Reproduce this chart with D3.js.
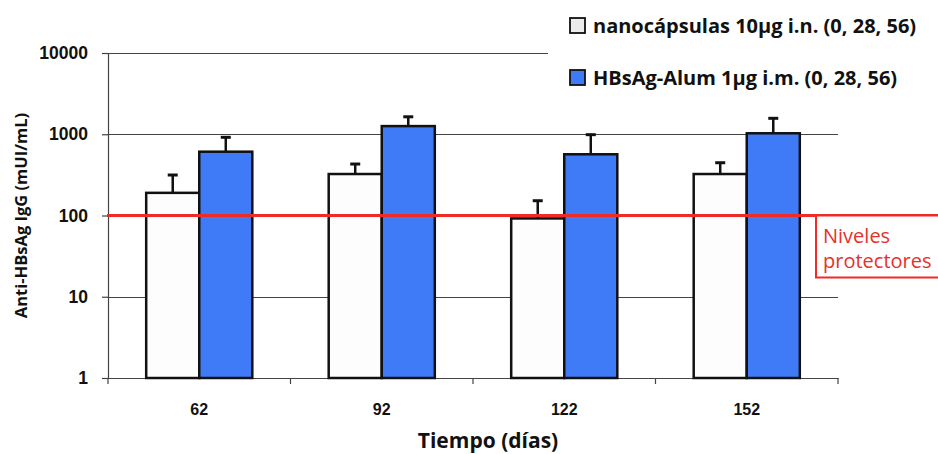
<!DOCTYPE html>
<html>
<head>
<meta charset="utf-8">
<script src="https://cdn.jsdelivr.net/npm/d3@7"></script>
<style>
  body { margin: 0; background: #fff; }
  svg { display: block; font-family: "Open Sans", "Noto Sans", sans-serif; }
</style>
</head>
<body>
<div id="chart"></div>
<script>
// datos (escala log)
const days = ["62", "92", "122", "152"];
const seriesNames = ["nanocápsulas 10µg i.n. (0, 28, 56)", "HBsAg-Alum 1µg i.m. (0, 28, 56)"];
const nanoValues = [190, 324, 92, 324];
const nanoErrTop = [315, 430, 152, 446];
const alumValues = [610, 1260, 567, 1028];
const alumErrTop = [917, 1640, 988, 1571];
const yTicks = [1, 10, 100, 1000, 10000];
const protectiveLevel = 100;

const width = 938, height = 454;
const margin = { top: 53, right: 100, bottom: 76, left: 108 };

const svg = d3.select("#chart").append("svg")
  .attr("width", width)
  .attr("height", height);

const y = d3.scaleLog().domain([1, 10000]).range([height - margin.bottom, margin.top]);
const x0 = d3.scaleBand().domain(days).range([margin.left, width - margin.right]);
const x1 = d3.scaleBand().domain([0, 1]).range([0, x0.bandwidth()]).paddingInner(0).paddingOuter(0.72);

const fills = ["#fdfdfd", "#3f7bf6"];
const legendFills = ["#ececec", "#3f7bf6"];

// ── Grid ──
const gridEnd = t => (t === 10000 ? 548 : width - margin.right);
svg.append("g")
  .selectAll("line")
  .data(yTicks.filter(t => t !== 1))
  .join("line")
  .attr("x1", margin.left)
  .attr("x2", d => gridEnd(d))
  .attr("y1", d => Math.round(y(d)) + 0.5)
  .attr("y2", d => Math.round(y(d)) + 0.5)
  .attr("stroke", "#444")
  .attr("stroke-width", 1.2);

// ── Y axis ──
const yAxis = svg.append("g")
  .attr("transform", `translate(${margin.left},0)`)
  .call(d3.axisLeft(y).tickValues(yTicks).tickFormat(d3.format("d")).tickSize(6).tickPadding(14));
yAxis.select(".domain").attr("stroke", "#444").attr("stroke-width", 1.2);
yAxis.selectAll(".tick line").attr("stroke", "#444").attr("stroke-width", 1.2);
yAxis.selectAll("text")
  .attr("fill", "#111")
  .style("font-size", "17.5px")
  .style("font-weight", "700");

// ── X axis ──
const xAxis = svg.append("g")
  .attr("transform", `translate(0,${height - margin.bottom})`)
  .call(d3.axisBottom(x0).tickSize(0).tickPadding(26));
xAxis.select(".domain").attr("stroke", "#444").attr("stroke-width", 1.2);
xAxis.selectAll("text")
  .attr("fill", "#111")
  .style("font-size", "16px")
  .style("font-weight", "700");
// ticks at category boundaries
const bounds = days.map(d => x0(d)).concat([x0.range()[1]]);
xAxis.append("g")
  .selectAll("line")
  .data(bounds)
  .join("line")
  .attr("x1", d => d).attr("x2", d => d)
  .attr("y1", 0).attr("y2", 6)
  .attr("stroke", "#444")
  .attr("stroke-width", 1.2);

// ── Bars ──
const rows = days.map((d, i) => ({
  day: d,
  bars: [
    { s: 0, v: nanoValues[i], e: nanoErrTop[i] },
    { s: 1, v: alumValues[i], e: alumErrTop[i] }
  ]
}));

const group = svg.append("g")
  .selectAll("g")
  .data(rows)
  .join("g")
  .attr("transform", d => `translate(${x0(d.day)},0)`);

// error bars (drawn first so bar border covers the base)
group.selectAll("line.err")
  .data(d => d.bars)
  .join("line")
  .attr("class", "err")
  .attr("x1", d => x1(d.s) + x1.bandwidth() / 2)
  .attr("x2", d => x1(d.s) + x1.bandwidth() / 2)
  .attr("y1", d => y(d.v))
  .attr("y2", d => y(d.e))
  .attr("stroke", "#111")
  .attr("stroke-width", 2.5);
group.selectAll("line.cap")
  .data(d => d.bars)
  .join("line")
  .attr("class", "cap")
  .attr("x1", d => x1(d.s) + x1.bandwidth() / 2 - 5)
  .attr("x2", d => x1(d.s) + x1.bandwidth() / 2 + 5)
  .attr("y1", d => y(d.e))
  .attr("y2", d => y(d.e))
  .attr("stroke", "#111")
  .attr("stroke-width", 3);

group.selectAll("rect")
  .data(d => d.bars)
  .join("rect")
  .attr("x", d => x1(d.s))
  .attr("y", d => y(d.v))
  .attr("width", x1.bandwidth())
  .attr("height", d => y(1) - y(d.v))
  .attr("fill", d => fills[d.s])
  .attr("stroke", "#111")
  .attr("stroke-width", 2.5);

// ── Protective level ──
const yp = y(protectiveLevel);
svg.append("line")
  .attr("x1", margin.left - 1)
  .attr("x2", width)
  .attr("y1", yp).attr("y2", yp)
  .attr("stroke", "#ee2b24")
  .attr("stroke-width", 3);
svg.append("rect")
  .attr("x", 816)
  .attr("y", yp)
  .attr("width", 140)
  .attr("height", 62)
  .attr("fill", "#fff")
  .attr("stroke", "#ee2b24")
  .attr("stroke-width", 2);
svg.append("text")
  .attr("x", 823).attr("y", yp + 27)
  .attr("fill", "#e8302a")
  .style("font-size", "20px")
  .text("Niveles");
svg.append("text")
  .attr("x", 823).attr("y", yp + 52)
  .attr("fill", "#e8302a")
  .style("font-size", "20px")
  .text("protectores");

// ── Legend ──
const legend = svg.append("g")
  .selectAll("g")
  .data(seriesNames)
  .join("g")
  .attr("transform", (d, i) => `translate(570,${18 + i * 52})`);
legend.append("rect")
  .attr("width", 15).attr("height", 15)
  .attr("fill", (d, i) => legendFills[i])
  .attr("stroke", "#111")
  .attr("stroke-width", 1.8);
legend.append("text")
  .attr("x", 23).attr("y", 14.5)
  .attr("fill", "#111")
  .style("font-size", "20px")
  .style("font-weight", "700")
  .text(d => d);

// ── Axis titles ──
svg.append("text")
  .attr("transform", `translate(27,${(y(1) + y(10000)) / 2}) rotate(-90)`)
  .attr("text-anchor", "middle")
  .attr("fill", "#111")
  .style("font-size", "16.5px")
  .style("font-weight", "700")
  .text("Anti-HBsAg IgG (mUI/mL)");
svg.append("text")
  .attr("x", 488)
  .attr("y", 448)
  .attr("text-anchor", "middle")
  .attr("fill", "#111")
  .style("font-size", "21px")
  .style("font-weight", "700")
  .text("Tiempo (días)");
</script>
</body>
</html>
